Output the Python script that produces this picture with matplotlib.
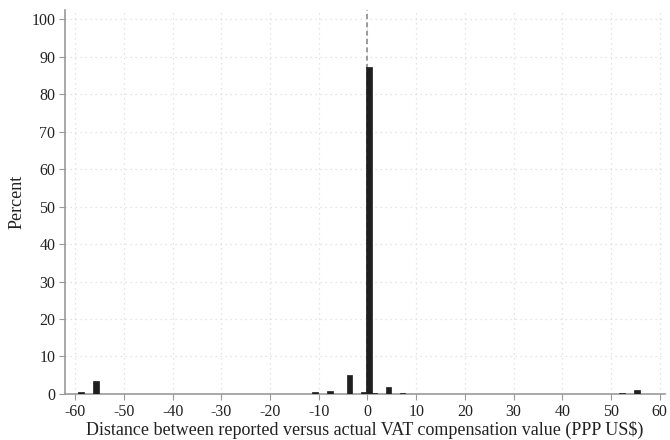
import matplotlib
matplotlib.use("Agg")
import matplotlib.pyplot as plt
import numpy as np

# histogram bins (bin centre, percent)
centers = [-58.8, -55.7, -10.7, -7.7, -3.7, -0.7, 0.3, 1.3, 4.3, 7.2, 52.3, 55.3]
percent = [0.4, 3.5, 0.4, 0.8, 5.0, 0.5, 87.2, 0.2, 1.9, 0.2, 0.2, 1.0]
bin_width = 1.2

xticks = list(range(-60, 61, 10))
yticks = list(range(0, 101, 10))

plt.rcParams['font.family'] = ['Liberation Serif', 'DejaVu Serif']
plt.rcParams['axes.unicode_minus'] = False

fig = plt.figure(figsize=(6.7, 4.4), dpi=100)
ax = fig.add_axes([0.097, 0.105, 0.895, 0.872])

ax.bar(centers, percent, width=bin_width, color='#1f1f1f', edgecolor='#1f1f1f',
       linewidth=0.5, zorder=3)
ax.axvline(0, color='#8a8a8a', linestyle=(0, (3, 2)), linewidth=1.2, zorder=2)

ax.set_xlim(-62.1, 61.0)
ax.set_ylim(0, 102.5)
ax.set_xticks(xticks)
ax.set_yticks(yticks)
ax.grid(True, color='#dcdcdc', linestyle=(0, (1, 3)), linewidth=0.9, zorder=0)

for s in ['top', 'right']:
    ax.spines[s].set_visible(False)
for s in ['left', 'bottom']:
    ax.spines[s].set_color('#999999')
    ax.spines[s].set_linewidth(1.2)
ax.tick_params(colors='#999999', labelcolor='#222222', labelsize=11.5, length=4, pad=3)

ax.set_xlabel('Distance between reported versus actual VAT compensation value (PPP US$)',
              fontsize=13, color='#222222', labelpad=1)
ax.set_ylabel('Percent', fontsize=13, color='#222222', labelpad=4)

fig.savefig('out.png', dpi=100)
